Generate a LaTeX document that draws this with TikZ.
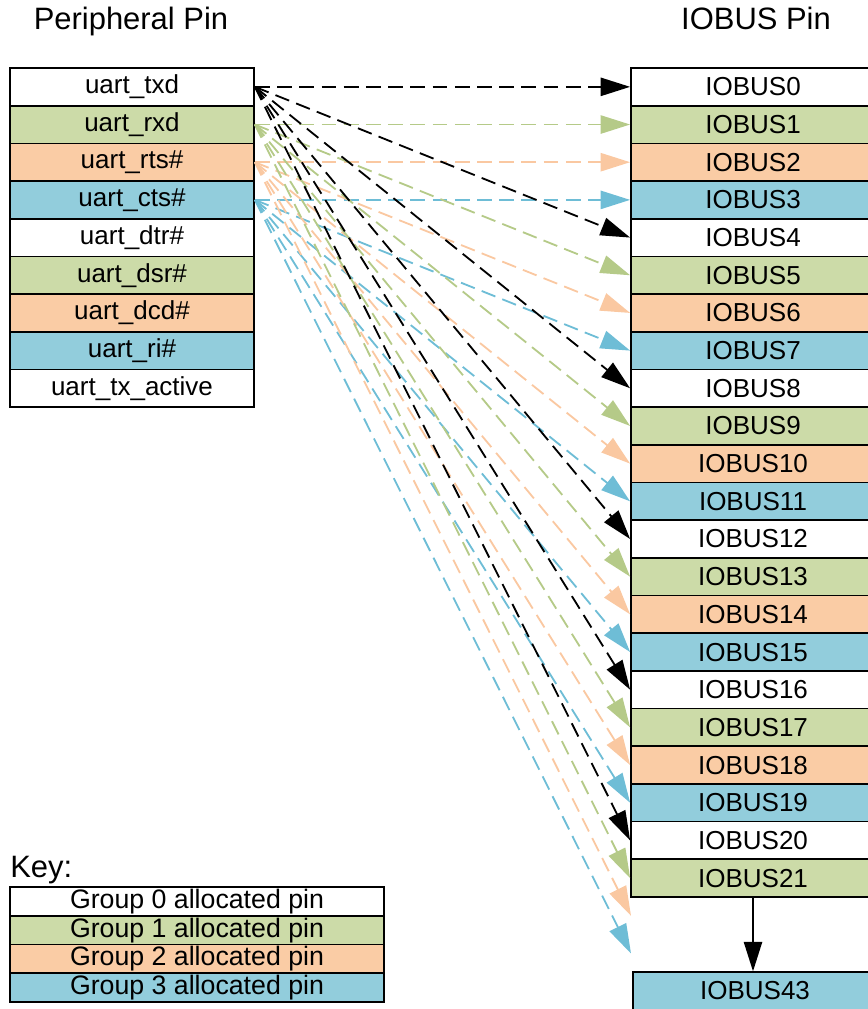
\documentclass[tikz,border=0pt]{standalone}
\usepackage{fontspec}
\setmainfont{Liberation Sans}
\usetikzlibrary{arrows.meta}
\definecolor{GrpOneClr}{rgb}{0.8,0.859,0.659}
\definecolor{GrpTwoClr}{rgb}{0.98,0.8,0.647}
\definecolor{GrpThreeClr}{rgb}{0.573,0.804,0.863}
\definecolor{LinkOneClr}{rgb}{0.71,0.792,0.533}
\definecolor{LinkTwoClr}{rgb}{0.98,0.784,0.631}
\definecolor{LinkThreeClr}{rgb}{0.431,0.741,0.839}

\begin{document}
\begin{tikzpicture}[x=0.025cm,y=-0.025cm]
\tikzset{pin/.style={draw,line width=1.2pt,minimum width=6.1cm,minimum height=0.942cm,inner sep=0pt,font=\fontsize{18.5}{20}\selectfont},
keyrow/.style={draw,line width=1.2pt,minimum width=9.35cm,minimum height=0.719cm,inner sep=0pt,font=\fontsize{19}{20}\selectfont},
title/.style={inner sep=0pt,font=\fontsize{22}{24}\selectfont},
link/.style={line width=1.3pt,-{Triangle[length=21pt,width=13pt]}},
dlink/.style={link,dash pattern=on 10.5pt off 5.3pt}}

\useasboundingbox (0,0) rectangle (868,1009);
\clip (0,0) rectangle (868,1009);

% column titles
\node[title,anchor=base] (TP) at (131,29) {Peripheral Pin};
\node[title,anchor=base] (TB) at (756,29) {IOBUS Pin};

% peripheral pins
\node[pin] (P0) at (132,86.84) {uart\_txd};
\node[pin,fill=GrpOneClr] (P1) at (132,124.52) {uart\_rxd};
\node[pin,fill=GrpTwoClr] (P2) at (132,162.20) {uart\_rts\#};
\node[pin,fill=GrpThreeClr] (P3) at (132,199.88) {uart\_cts\#};
\node[pin] (P4) at (132,237.56) {uart\_dtr\#};
\node[pin,fill=GrpOneClr] (P5) at (132,275.24) {uart\_dsr\#};
\node[pin,fill=GrpTwoClr] (P6) at (132,312.92) {uart\_dcd\#};
\node[pin,fill=GrpThreeClr] (P7) at (132,350.60) {uart\_ri\#};
\node[pin] (P8) at (132,388.28) {uart\_tx\_active};

% iobus pins
\node[pin] (B0) at (753,86.84) {IOBUS0};
\node[pin,fill=GrpOneClr] (B1) at (753,124.52) {IOBUS1};
\node[pin,fill=GrpTwoClr] (B2) at (753,162.20) {IOBUS2};
\node[pin,fill=GrpThreeClr] (B3) at (753,199.88) {IOBUS3};
\node[pin] (B4) at (753,237.56) {IOBUS4};
\node[pin,fill=GrpOneClr] (B5) at (753,275.24) {IOBUS5};
\node[pin,fill=GrpTwoClr] (B6) at (753,312.92) {IOBUS6};
\node[pin,fill=GrpThreeClr] (B7) at (753,350.60) {IOBUS7};
\node[pin] (B8) at (753,388.28) {IOBUS8};
\node[pin,fill=GrpOneClr] (B9) at (753,425.96) {IOBUS9};
\node[pin,fill=GrpTwoClr] (B10) at (753,463.64) {IOBUS10};
\node[pin,fill=GrpThreeClr] (B11) at (753,501.32) {IOBUS11};
\node[pin] (B12) at (753,539.00) {IOBUS12};
\node[pin,fill=GrpOneClr] (B13) at (753,576.68) {IOBUS13};
\node[pin,fill=GrpTwoClr] (B14) at (753,614.36) {IOBUS14};
\node[pin,fill=GrpThreeClr] (B15) at (753,652.04) {IOBUS15};
\node[pin] (B16) at (753,689.72) {IOBUS16};
\node[pin,fill=GrpOneClr] (B17) at (753,727.40) {IOBUS17};
\node[pin,fill=GrpTwoClr] (B18) at (753,765.08) {IOBUS18};
\node[pin,fill=GrpThreeClr] (B19) at (753,802.76) {IOBUS19};
\node[pin] (B20) at (753,840.44) {IOBUS20};
\node[pin,fill=GrpOneClr] (B21) at (753,878.12) {IOBUS21};
\coordinate (B22) at (631,915.8);
\coordinate (B23) at (631,953.5);
\node[pin,fill=GrpThreeClr] (B43) at (755,991) {IOBUS43};

\draw[link] (B21.south) -- (B21.south |- B43.north);

% group 3
\draw[dlink,LinkThreeClr] (P3.east) -- (B3.west);
\draw[dlink,LinkThreeClr] (P3.east) -- (B7.west);
\draw[dlink,LinkThreeClr] (P3.east) -- (B11.west);
\draw[dlink,LinkThreeClr] (P3.east) -- (B15.west);
\draw[dlink,LinkThreeClr] (P3.east) -- (B19.west);
\draw[dlink,LinkThreeClr] (P3.east) -- (B23);

% group 2
\draw[dlink,LinkTwoClr] (P2.east) -- (B2.west);
\draw[dlink,LinkTwoClr] (P2.east) -- (B6.west);
\draw[dlink,LinkTwoClr] (P2.east) -- (B10.west);
\draw[dlink,LinkTwoClr] (P2.east) -- (B14.west);
\draw[dlink,LinkTwoClr] (P2.east) -- (B18.west);
\draw[dlink,LinkTwoClr] (P2.east) -- (B22);

% group 1
\draw[dlink,LinkOneClr] (P1.east) -- (B1.west);
\draw[dlink,LinkOneClr] (P1.east) -- (B5.west);
\draw[dlink,LinkOneClr] (P1.east) -- (B9.west);
\draw[dlink,LinkOneClr] (P1.east) -- (B13.west);
\draw[dlink,LinkOneClr] (P1.east) -- (B17.west);
\draw[dlink,LinkOneClr] (P1.east) -- (B21.west);

% group 0
\draw[dlink] (P0.east) -- (B0.west);
\draw[dlink] (P0.east) -- (B4.west);
\draw[dlink] (P0.east) -- (B8.west);
\draw[dlink] (P0.east) -- (B12.west);
\draw[dlink] (P0.east) -- (B16.west);
\draw[dlink] (P0.east) -- (B20.west);

% key
\node[title,anchor=base west] (KT) at (10,877) {Key:};
\node[keyrow] (K0) at (197,901.4) {Group 0 allocated pin};
\node[keyrow,fill=GrpOneClr] (K1) at (197,930.1) {Group 1 allocated pin};
\node[keyrow,fill=GrpTwoClr] (K2) at (197,958.9) {Group 2 allocated pin};
\node[keyrow,fill=GrpThreeClr] (K3) at (197,987.6) {Group 3 allocated pin};

\end{tikzpicture}
\end{document}
